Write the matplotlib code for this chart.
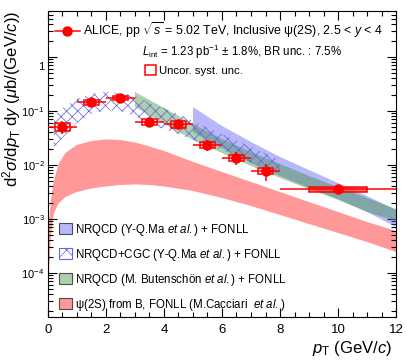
import matplotlib
matplotlib.use("Agg")
import matplotlib.pyplot as plt
import matplotlib.transforms as mtransforms
import numpy as np
from matplotlib.patches import Rectangle, Patch
from matplotlib.lines import Line2D
from matplotlib.ticker import FixedLocator, LogLocator, MultipleLocator, NullFormatter, FuncFormatter

# ALICE inclusive psi(2S), pp 5.02 TeV, 2.5 < y < 4
pt_lo = np.array([0, 1, 2, 3, 4, 5, 6, 7, 8])
pt_hi = np.array([1, 2, 3, 4, 5, 6, 7, 8, 12])
pt = np.array([0.5, 1.5, 2.5, 3.5, 4.5, 5.5, 6.5, 7.5, 10.0])
xsec = np.array([0.0512, 0.145, 0.172, 0.0626, 0.0570, 0.0235, 0.0137, 0.00774, 0.00355])
stat = np.array([0.013, 0.012, 0.012, 0.0125, 0.009, 0.0057, 0.0036, 0.0027, 0.00065])
syst = np.array([0.0088, 0.018, 0.015, 0.008, 0.008, 0.0028, 0.0017, 0.00094, 0.0004])
syst_hw = np.array([0.25, 0.25, 0.25, 0.25, 0.25, 0.25, 0.25, 0.25, 1.0])

# NRQCD (Y-Q.Ma et al.) + FONLL
ma_pt = [5, 6, 7, 8, 9, 10, 11, 12]
ma_hi = [0.1186, 0.0528, 0.0267, 0.01406, 8.08e-3, 4.64e-3, 2.67e-3, 1.47e-3]
ma_lo = [0.0408, 0.0206, 0.0109, 6.25e-3, 3.75e-3, 2.35e-3, 1.35e-3, 7.11e-4]

# NRQCD+CGC (Y-Q.Ma et al.) + FONLL
cgc_pt = [0.2, 0.5, 1, 1.5, 2, 2.5, 3, 3.5, 4, 4.5, 5, 6, 7, 8]
cgc_hi = [0.0808, 0.1137, 0.1668, 0.2064, 0.2249, 0.2154, 0.1896, 0.1407, 0.1137, 0.0880, 0.0653, 0.0375, 0.0216, 0.0124]
cgc_lo = [0.0206, 0.0316, 0.0600, 0.0880, 0.1044, 0.1000, 0.0808, 0.0574, 0.0464, 0.0375, 0.0290, 0.0190, 0.0109, 6.53e-3]

# NRQCD (M. Butenschoen et al.) + FONLL
but_pt = [3, 4, 5, 6, 7, 8, 9, 10, 11, 12]
but_hi = [0.2249, 0.1137, 0.0574, 0.0303, 0.0174, 0.01044, 6.25e-3, 3.92e-3, 2.45e-3, 1.53e-3]
but_lo = [0.1186, 0.0574, 0.0290, 0.01668, 9.58e-3, 5.74e-3, 3.59e-3, 2.25e-3, 1.35e-3, 9.19e-4]

# psi(2S) from B, FONLL
fonll_pt = [0, 0.02, 0.05, 0.1, 0.2, 0.35, 0.6, 1.0, 1.5, 2.0, 2.5, 3.0, 3.5, 4, 5, 6, 7, 8, 9, 10, 11, 12]
fonll_hi = [1e-5, 2.67e-4, 1.04e-3, 2.25e-3, 4.85e-3, 1.0e-2, 1.67e-2, 2.35e-2, 2.78e-2, 2.97e-2, 2.90e-2,
            2.61e-2, 2.20e-2, 1.82e-2, 1.14e-2, 7.42e-3, 4.85e-3, 3.16e-3, 2.06e-3, 1.35e-3, 8.8e-4, 6.0e-4]
fonll_lo = [1e-5, 3.9e-5, 1.41e-4, 5.06e-4, 1.24e-3, 1.90e-3, 2.55e-3, 3.16e-3, 3.67e-3, 4.0e-3, 4.26e-3,
            4.36e-3, 4.26e-3, 4.0e-3, 3.30e-3, 2.45e-3, 1.74e-3, 1.19e-3, 8.08e-4, 5.51e-4, 3.75e-4, 2.45e-4]

ytick_vals = [1e-4, 1e-3, 1e-2, 1e-1, 1]

plt.rcParams["font.family"] = ["Liberation Sans", "DejaVu Sans"]
plt.rcParams["mathtext.fontset"] = "custom"
plt.rcParams["mathtext.rm"] = "Liberation Sans"
plt.rcParams["mathtext.it"] = "Liberation Sans:italic"
plt.rcParams["mathtext.bf"] = "Liberation Sans:bold"
plt.rcParams["hatch.linewidth"] = 0.55

blue = (0.3, 0.3, 0.95, 0.4)
green = (0.2, 0.55, 0.2, 0.4)
pink = (1.0, 0.2, 0.2, 0.5)
hatch_col = (0.4, 0.4, 0.88)

fig = plt.figure(figsize=(4.07, 3.62), dpi=100)
ax = fig.add_axes([0.1179, 0.1243, 0.8551, 0.8453])

# theory bands
ax.fill_between(fonll_pt, fonll_lo, fonll_hi, facecolor=pink, lw=0, zorder=1)
ax.fill_between(ma_pt, ma_lo, ma_hi, facecolor=blue, lw=0, zorder=2)
ax.fill_between(but_pt, but_lo, but_hi, facecolor=green, lw=0, zorder=3)
ax.fill_between(cgc_pt, cgc_lo, cgc_hi, facecolor="none", edgecolor=hatch_col, hatch="xxx", lw=0, zorder=4)

# data: syst boxes + stat bars
for i in range(len(pt)):
    last = i == len(pt) - 1
    ax.add_patch(Rectangle((pt[i] - syst_hw[i], xsec[i] - syst[i]), 2 * syst_hw[i], 2 * syst[i],
                           facecolor=(1, 0.25, 0.25, 0.7) if last else "none",
                           edgecolor="red", lw=1.1, zorder=5))
ax.errorbar(pt, xsec, xerr=[pt - pt_lo, pt_hi - pt], yerr=stat, fmt="o", color="red",
            ms=6.5, lw=1.1, capsize=0, zorder=6)

ax.set_xlim(0, 12)
ax.set_yscale("log")
ax.set_ylim(1.53e-5, 7.1)

ax.xaxis.set_major_locator(MultipleLocator(2))
ax.xaxis.set_minor_locator(MultipleLocator(0.5))
ax.yaxis.set_major_locator(FixedLocator(ytick_vals))
ax.yaxis.set_minor_locator(LogLocator(base=10, subs=np.arange(2, 10), numticks=20))
ax.yaxis.set_minor_formatter(NullFormatter())
ax.yaxis.set_major_formatter(FuncFormatter(
    lambda v, p: "1" if v == 1 else r"$10^{%d}$" % int(round(np.log10(v)))))

ax.tick_params(which="both", direction="in", top=True, right=True, width=0.8)
ax.tick_params(which="major", length=6.5)
ax.tick_params(which="minor", length=3.6)
ax.tick_params(axis="x", pad=5, labelsize=9.5)
ax.tick_params(axis="y", pad=2.5, labelsize=8.0)
for s in ax.spines.values():
    s.set_linewidth(0.8)

ax.set_ylabel(r"d$^{2}\sigma$/d$p_{\rm T}$ d$y$ ($\mu$b/(GeV/$c$))", fontsize=12, loc="top")
ax.yaxis.set_label_coords(-0.072, 1.0)
ax.set_xlabel(r"$p_{\rm T}$ (GeV/$c$)", fontsize=12, loc="right")
ax.xaxis.set_label_coords(0.99, -0.072)

# legends
alice_h = Line2D([], [], color="red", marker="o", ms=6.5, lw=1.1)
leg1 = ax.legend([alice_h], [r"ALICE, pp $\sqrt{s}$ = 5.02 TeV, Inclusive $\mathrm{\psi}$(2S), 2.5 < $y$ < 4"],
                 loc="center left", bbox_to_anchor=(0.020, 0.938), frameon=False, fontsize=8.9,
                 handlelength=2.0, handletextpad=0.25, borderpad=0, borderaxespad=0)
ax.add_artist(leg1)

ax.text(0.270, 0.866, r"$L_{\rm int}$ = 1.23 pb$^{-1}$ $\pm$ 1.8%, BR unc. : 7.5%",
        transform=ax.transAxes, fontsize=8.3, va="center", ha="left")

leg2 = ax.legend([Patch(facecolor="none", edgecolor="red", lw=1.1)], ["Uncor. syst. unc."],
                 loc="center left", bbox_to_anchor=(0.279, 0.807), frameon=False, fontsize=8.2,
                 handlelength=1.0, handleheight=1.0, handletextpad=0.2, borderpad=0, borderaxespad=0)
ax.add_artist(leg2)

th_handles = [
    Patch(facecolor=blue, edgecolor=(0.3, 0.3, 0.3), lw=0.8),
    Patch(facecolor="white", edgecolor=hatch_col, hatch="xx", lw=0.8),
    Patch(facecolor=green, edgecolor=(0.3, 0.3, 0.3), lw=0.8),
    Patch(facecolor=pink, edgecolor=(0.3, 0.3, 0.3), lw=0.8),
]
th_labels = [
    r"NRQCD (Y-Q.Ma $et\ al.$) + FONLL",
    r"NRQCD+CGC (Y-Q.Ma $et\ al.$) + FONLL",
    r"NRQCD (M. Butenschön $et\ al.$) + FONLL",
    r"$\mathrm{\psi}$(2S) from B, FONLL (M.Cacciari  $et\ al.$)",
]
ax.legend(th_handles, th_labels, loc="upper left", bbox_to_anchor=(0.0325, 0.3114), frameon=False,
          fontsize=8.3, handlelength=1.12, handleheight=1.12, handletextpad=0.2, labelspacing=0.78,
          borderpad=0, borderaxespad=0)

# the "1" label sits a little lower than its tick in the original
fig.canvas.draw()
for t in ax.yaxis.get_major_ticks():
    if abs(t.get_loc() - 1) < 1e-9:
        t.label1.set_transform(t.label1.get_transform()
                               + mtransforms.ScaledTranslation(0, -0.09, fig.dpi_scale_trans))

fig.savefig("out.png", dpi=100)
